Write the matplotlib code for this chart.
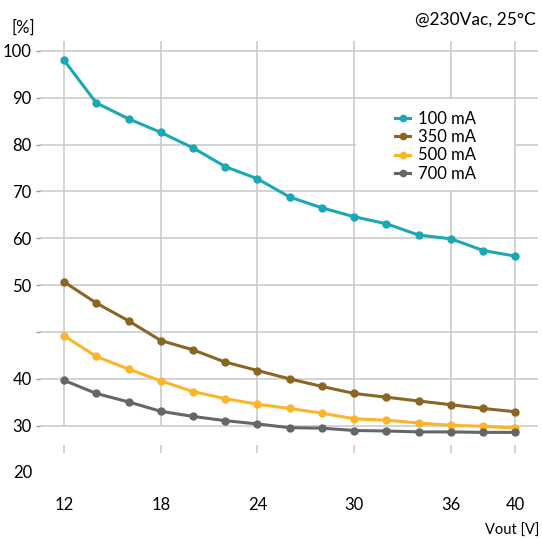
import numpy as np
import matplotlib.pyplot as plt
from matplotlib.lines import Line2D
from matplotlib.patches import Rectangle

plt.rcParams['font.family'] = ['Lato', 'DejaVu Sans']

# efficiency vs output voltage
vout = [12, 14, 16, 18, 20, 22, 24, 26, 28, 30, 32, 34, 36, 38, 40]
eff_100 = [98.0, 88.9, 85.5, 82.6, 79.3, 75.3, 72.7, 68.8, 66.5, 64.6, 63.1, 60.7, 59.9, 57.4, 56.2]
eff_350 = [50.7, 48.1, 46.2, 44.1, 43.1, 41.8, 40.9, 40.0, 38.4, 36.9, 36.1, 35.3, 34.5, 33.7, 33.0]
eff_500 = [44.6, 42.4, 41.05, 39.6, 37.3, 35.8, 34.6, 33.7, 32.7, 31.5, 31.2, 30.6, 30.1, 29.9, 29.5]
eff_700 = [39.7, 36.9, 35.1, 33.1, 32.0, 31.1, 30.4, 29.6, 29.5, 29.0, 28.9, 28.7, 28.7, 28.6, 28.6]
labels = ['100 mA', '350 mA', '500 mA', '700 mA']
colors = ['#1ba8b4', '#8a6523', '#f9b52c', '#646769']

x_ticks = [12, 18, 24, 30, 36, 40]
y_ticks = [30, 40, 45, 50, 60, 70, 80, 90, 100]
y_ticklabels = ['30', '40', '', '50', '60', '70', '80', '90', '100']


# the 40-50 band is drawn twice as tall as the rest
def fwd(v):
    v = np.asarray(v, dtype=float)
    return np.where(v >= 50, v + 10, np.where(v >= 40, 40 + (v - 40) * 2, v))


def inv(p):
    p = np.asarray(p, dtype=float)
    return np.where(p >= 60, p - 10, np.where(p >= 40, 40 + (p - 40) / 2, p))


fig = plt.figure(figsize=(5.42, 5.38), dpi=100)
ax = fig.add_axes([40 / 542, 1 - 453 / 538, 498 / 542, 412 / 538])
ax.set_yscale('function', functions=(fwd, inv))
ax.set_xlim(10.51, 41.4)
ax.set_ylim(24.2, 102.1)

for s in ax.spines.values():
    s.set_visible(False)

grid_c = '#cccccc'
ax.set_axisbelow(True)
ax.set_yticks(y_ticks)
ax.set_yticklabels(y_ticklabels)
ax.yaxis.grid(True, color=grid_c, lw=1.2)
ax.vlines(x_ticks, 30, 102.1, color=grid_c, lw=1.2, zorder=0.5)
ax.set_xticks(x_ticks)
ax.set_xticklabels([str(t) for t in x_ticks])
ax.tick_params(axis='y', length=3, width=1, color='#999999', pad=3, labelsize=12)
ax.tick_params(axis='x', direction='in', length=6, width=1.2, color=grid_c, pad=32, labelsize=12)
ax.text(-0.0143, 20, '20', transform=ax.get_yaxis_transform(), ha='right', va='center',
        fontsize=12, clip_on=False)

# white box behind the legend
ax.add_patch(Rectangle((30.08, 70.3), 9.84, 19.4, facecolor='white', edgecolor='none', zorder=1))

series = [eff_100, eff_350, eff_500, eff_700]
for vals, lab, c in zip(series, labels, colors):
    ax.plot(vout, vals, color=c, lw=2.2, marker='o', ms=5, label=lab, zorder=3, clip_on=False)

handles = [Line2D([], [], color=c, lw=2.2, marker='o', ms=4.5) for c in colors]
fig.legend(handles, labels, loc='upper left', bbox_to_anchor=(395 / 542, 1 - 111 / 538),
           frameon=False, fontsize=12, handlelength=0.9, handletextpad=0.45,
           labelspacing=0.13, borderpad=0, borderaxespad=0)

fig.text(23 / 542, 1 - 28 / 538, '[%]', ha='center', va='center', fontsize=12)
fig.text(536 / 542, 1 - 20 / 538, '@230Vac, 25°C', ha='right', va='center', fontsize=12.5)
fig.text(539 / 542, 1 - 531 / 538, 'Vout [V]', ha='right', va='center', fontsize=10.5)

fig.savefig('out.png', dpi=100)
